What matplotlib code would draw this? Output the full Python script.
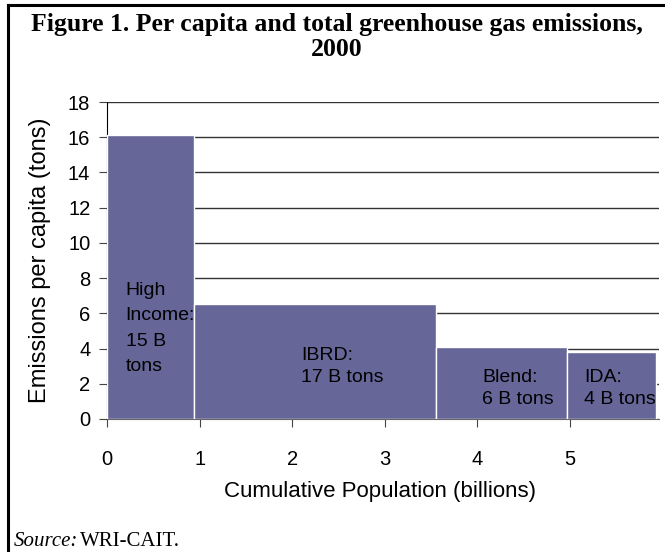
import matplotlib
matplotlib.use("Agg")
import matplotlib.pyplot as plt
from matplotlib.lines import Line2D

# data
groups = ["High\nIncome:\n15 B\ntons", "IBRD:\n17 B tons", "Blend:\n6 B tons", "IDA:\n4 B tons"]
pop_start = [0.0, 0.94, 3.55, 4.97]       # billions
pop_width = [0.94, 2.61, 1.42, 0.96]
per_capita = [16.1, 6.55, 4.1, 3.82]      # tons per capita
label_x = [0.2, 2.1, 4.05, 5.15]
label_y = [7.8, 4.1, 2.85, 2.85]
label_gap = [1.66, 1.42, 1.42, 1.42]
yticks = list(range(0, 19, 2))
xticks = [0, 1, 2, 3, 4, 5]

plt.rcParams['font.family'] = ['Liberation Sans', 'DejaVu Sans']

fig = plt.figure(figsize=(6.65, 5.52), dpi=100)
ax = fig.add_axes([107/665, 1-419/552, 552/665, 317/552])

ax.bar(pop_start, per_capita, width=pop_width, align="edge",
       color="#666699", edgecolor="white", linewidth=1, zorder=3)

for t, x, y, g in zip(groups, label_x, label_y, label_gap):
    ax.text(x, y, t, fontsize=14, va="top", ha="left", linespacing=g, zorder=4)

ax.set_xlim(0, 5.96)
ax.set_ylim(0, 18)
ax.set_yticks(yticks)
ax.set_xticks(xticks)
ax.yaxis.grid(True, color="#333333", linewidth=1, zorder=0)
ax.set_axisbelow(True)
for s in ["top", "right"]:
    ax.spines[s].set_visible(False)
ax.spines["left"].set_color("black")
ax.spines["bottom"].set_color("#666666")
ax.tick_params(axis="y", length=6, pad=6, labelsize=14.5, color="#444444")
ax.tick_params(axis="x", length=6, pad=16, labelsize=14.5, color="#444444")

fig.text(40/665, 1-260/552, "Emissions per capita (tons)", rotation=90,
         fontsize=17, ha="center", va="center")
fig.text(380/665, 1-492/552, "Cumulative Population (billions)",
         fontsize=16, ha="center", va="center")

fig.text(337/665, 1-24/552, "Figure 1. Per capita and total greenhouse gas emissions,",
         fontsize=18.5, fontweight="bold", family="Liberation Serif", ha="center", va="center")
fig.text(337/665, 1-50/552, "2000",
         fontsize=18.5, fontweight="bold", family="Liberation Serif", ha="center", va="center")

fig.text(14/665, 1-541/552, "Source:", fontsize=15, style="italic",
         family="Liberation Serif", ha="left", va="center")
fig.text(80/665, 1-541/552, "WRI-CAIT.", fontsize=15,
         family="Liberation Serif", ha="left", va="center")

# frame around the figure
fig.add_artist(Line2D([8/665, 8/665], [0, 1-5/552], transform=fig.transFigure,
                      color="black", linewidth=2.2))
fig.add_artist(Line2D([8/665, 1], [1-5/552, 1-5/552], transform=fig.transFigure,
                      color="black", linewidth=2.2))

fig.savefig("out.png", dpi=100)
